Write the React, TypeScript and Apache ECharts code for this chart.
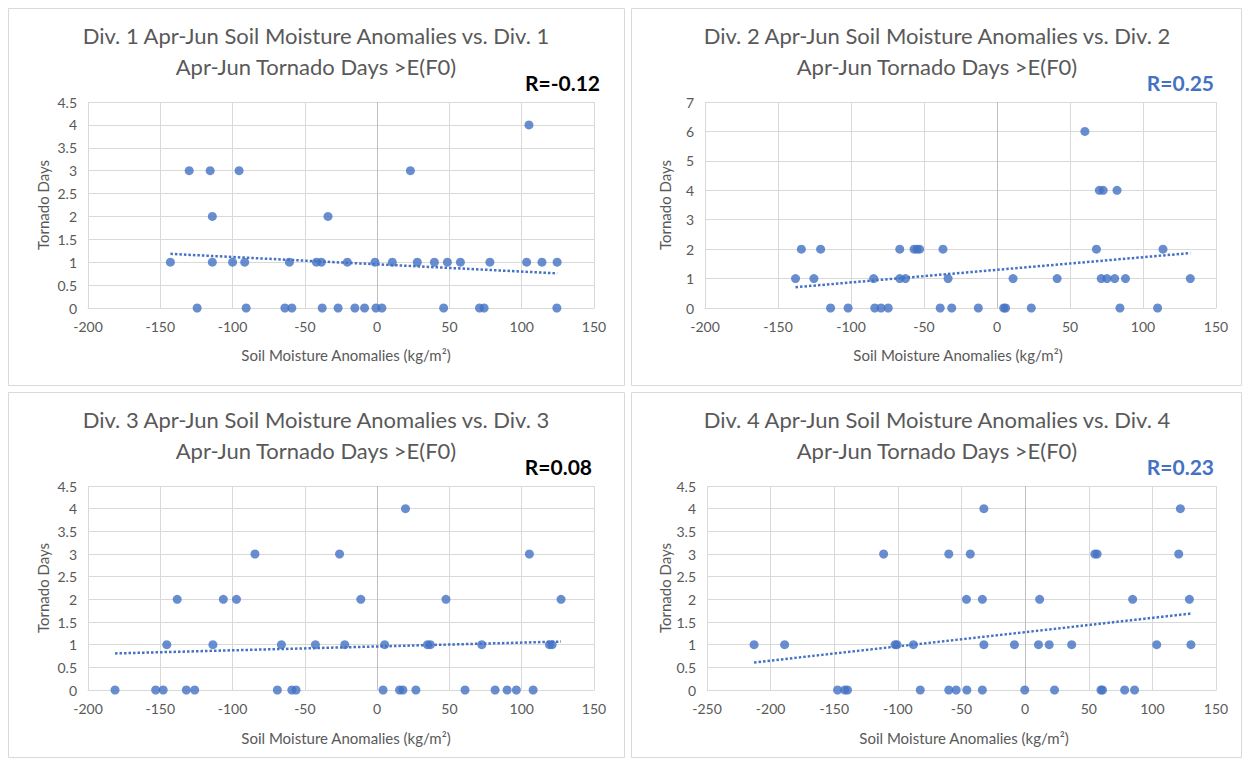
import React, { useEffect, useRef } from "react";
import * as echarts from "echarts";

// ---------- data ----------
const div1X = [105, -130, -115.5, -95.5, 23, -114, -34, -143, -114, -100, -91.6, -60.7, -42, -38.6, -20.6, -1.5, 10.5, 27.8, 39.6, 48.6, 57.6, 78, 103.4, 114, 124.5, -124.5, -90.6, -63.8, -59, -38, -27, -15.4, -8.7, -0.8, 3.3, 46, 70.8, 74, 124.3];
const div1Y = [4, 3, 3, 3, 3, 2, 2, 1, 1, 1, 1, 1, 1, 1, 1, 1, 1, 1, 1, 1, 1, 1, 1, 1, 1, 0, 0, 0, 0, 0, 0, 0, 0, 0, 0, 0, 0, 0, 0];

const div2X = [60.2, 70.1, 72.7, 82.2, -134, -120.8, -66.6, -56.8, -54.8, -53, -37, 68.1, 113.7, -138, -125.4, -84.5, -66.6, -62.7, -33.5, 11, 41.2, 71.4, 75.3, 80.6, 88, 132.4, -114, -102, -83.7, -79.4, -74.5, -38.9, -31, -12.8, 4.6, 5.9, 23.5, 84.2, 110];
const div2Y = [6, 4, 4, 4, 2, 2, 2, 2, 2, 2, 2, 2, 2, 1, 1, 1, 1, 1, 1, 1, 1, 1, 1, 1, 1, 1, 0, 0, 0, 0, 0, 0, 0, 0, 0, 0, 0, 0, 0];

const div3X = [19.6, -84.5, -26, 105.3, -138.3, -106.4, -97.3, -11.3, 47.6, 127.2, -145.5, -113.6, -66.2, -42.7, -22.4, 5.2, 34.8, 36.8, 72.4, 119.2, 121, -181.3, -153.2, -148, -132, -126.2, -69, -59, -56.1, 4.1, 15.5, 17.8, 26.8, 60.8, 81.6, 89.9, 96.3, 107.9];
const div3Y = [4, 3, 3, 3, 2, 2, 2, 2, 2, 2, 1, 1, 1, 1, 1, 1, 1, 1, 1, 1, 1, 0, 0, 0, 0, 0, 0, 0, 0, 0, 0, 0, 0, 0, 0, 0, 0, 0];

const div4X = [-32.4, 122, -111.2, -60, -43.1, 54.8, 56.6, 120.7, -46.1, -33.6, 11.4, 84.5, 129.1, -213, -189, -102.2, -100.7, -87.8, -32.4, -8.4, 10.5, 18.9, 36.6, 103.4, 130.3, -147.4, -141.7, -139.6, -82.4, -60, -54.2, -45.8, -33.6, -0.3, 23.1, 59.6, 60.8, 78.2, 86];
const div4Y = [4, 4, 3, 3, 3, 3, 3, 3, 2, 2, 2, 2, 2, 1, 1, 1, 1, 1, 1, 1, 1, 1, 1, 1, 1, 0, 0, 0, 0, 0, 0, 0, 0, 0, 0, 0, 0, 0, 0];

const panelTitles = [
  "Div. 1 Apr-Jun Soil Moisture Anomalies vs. Div. 1\nApr-Jun Tornado Days >E(F0)",
  "Div. 2 Apr-Jun Soil Moisture Anomalies vs. Div. 2\nApr-Jun Tornado Days >E(F0)",
  "Div. 3 Apr-Jun Soil Moisture Anomalies vs. Div. 3\nApr-Jun Tornado Days >E(F0)",
  "Div. 4 Apr-Jun Soil Moisture Anomalies vs. Div. 4\nApr-Jun Tornado Days >E(F0)",
];
const rLabels = ["R=-0.12", "R=0.25", "R=0.08", "R=0.23"];
const xMins = [-200, -200, -200, -250];
const xMax = 150;
const yMaxes = [4.5, 7, 4.5, 4.5];
const yIntervals = [0.5, 1, 0.5, 0.5];
const xName = "Soil Moisture Anomalies (kg/m²)";
const yName = "Tornado Days";

// ---------- layout ----------
const BLUE = "#4472C4";
const GREY = "#595959";
const FONT = "Lato, 'Liberation Sans', sans-serif";

const panels = [
  { box: [8, 8, 616, 377], grid: [88, 102, 506, 206], titleX: 316, titleY: 20, rX: 600, rY: 82, rColor: "#000000", yNameX: 43, xNameX: 346, xNameY: 355 },
  { box: [631, 8, 610, 377], grid: [705, 102, 511, 206], titleX: 937, titleY: 20, rX: 1214, rY: 82, rColor: BLUE, yNameX: 665, xNameX: 958, xNameY: 355 },
  { box: [8, 392, 616, 365], grid: [88, 486, 506, 204], titleX: 316, titleY: 404, rX: 592, rY: 466, rColor: "#000000", yNameX: 43, xNameX: 346, xNameY: 738 },
  { box: [631, 392, 610, 365], grid: [707, 486, 509, 204], titleX: 937, titleY: 404, rX: 1214, rY: 466, rColor: BLUE, yNameX: 665, xNameX: 964, xNameY: 738 },
];

const xsAll = [div1X, div2X, div3X, div4X];
const ysAll = [div1Y, div2Y, div3Y, div4Y];

function trend(xs: number[], ys: number[]) {
  const n = xs.length;
  const mx = xs.reduce((a, b) => a + b, 0) / n;
  const my = ys.reduce((a, b) => a + b, 0) / n;
  let sxy = 0;
  let sxx = 0;
  for (let i = 0; i < n; i++) {
    sxy += (xs[i] - mx) * (ys[i] - my);
    sxx += (xs[i] - mx) * (xs[i] - mx);
  }
  const b = sxy / sxx;
  const a = my - b * mx;
  const lo = Math.min(...xs);
  const hi = Math.max(...xs);
  return [
    [lo, a + b * lo],
    [hi, a + b * hi],
  ];
}

export default function App() {
  const ref = useRef<HTMLDivElement>(null);
  useEffect(() => {
    if (!ref.current) return;
    const chart = echarts.init(ref.current, undefined, { renderer: "svg" });

    const grid: any[] = [];
    const xAxis: any[] = [];
    const yAxis: any[] = [];
    const series: any[] = [];
    const graphic: any[] = [];

    panels.forEach((p, i) => {
      grid.push({ left: p.grid[0], top: p.grid[1], width: p.grid[2], height: p.grid[3], containLabel: false });
      xAxis.push({
        type: "value",
        gridIndex: i,
        min: xMins[i],
        max: xMax,
        interval: 50,
        axisLine: { show: true, onZero: false, lineStyle: { color: "#d9d9d9", width: 1 } },
        axisTick: { show: false },
        axisLabel: { color: GREY, fontSize: 14, fontFamily: FONT, margin: 11 },
        splitLine: { show: true, lineStyle: { color: "#d9d9d9", width: 1 } },
      });
      yAxis.push({
        type: "value",
        gridIndex: i,
        min: 0,
        max: yMaxes[i],
        interval: yIntervals[i],
        axisLine: { show: false },
        axisTick: { show: false },
        axisLabel: { color: GREY, fontSize: 14, fontFamily: FONT, margin: 11 },
        splitLine: { show: true, lineStyle: { color: "#d9d9d9", width: 1 } },
      });
      const xs = xsAll[i];
      const ys = ysAll[i];
      series.push({
        type: "scatter",
        xAxisIndex: i,
        yAxisIndex: i,
        data: xs.map((x, k) => [x, ys[k]]),
        symbol: "circle",
        symbolSize: 9,
        itemStyle: { color: BLUE },
        z: 3,
        markLine: {
          silent: true,
          symbol: "none",
          label: { show: false },
          lineStyle: { color: "#bfbfbf", type: "solid", width: 1 },
          data: [{ xAxis: 0 }],
          z: 1,
        },
      });
      series.push({
        type: "line",
        xAxisIndex: i,
        yAxisIndex: i,
        data: trend(xs, ys),
        showSymbol: false,
        symbol: "none",
        lineStyle: { color: BLUE, width: 2.5, type: [2.5, 2] },
        z: 4,
      });

      graphic.push({
        type: "rect",
        shape: { x: p.box[0] + 0.5, y: p.box[1] + 0.5, width: p.box[2], height: p.box[3] },
        style: { fill: "none", stroke: "#d9d9d9", lineWidth: 1 },
        silent: true,
      });
      graphic.push({
        type: "text",
        x: p.titleX,
        y: p.titleY,
        style: {
          text: panelTitles[i],
          align: "center",
          verticalAlign: "top",
          fill: GREY,
          font: `22px ${FONT}`,
          lineHeight: 31,
        },
      });
      graphic.push({
        type: "text",
        x: p.rX,
        y: p.rY,
        style: {
          text: rLabels[i],
          align: "right",
          verticalAlign: "middle",
          fill: p.rColor,
          font: `bold 21px ${FONT}`,
        },
      });
      graphic.push({
        type: "text",
        x: p.yNameX,
        y: p.grid[1] + p.grid[3] / 2,
        rotation: Math.PI / 2,
        style: {
          text: yName,
          align: "center",
          verticalAlign: "middle",
          fill: GREY,
          font: `15px ${FONT}`,
        },
      });
      graphic.push({
        type: "text",
        x: p.xNameX,
        y: p.xNameY,
        style: {
          text: xName,
          align: "center",
          verticalAlign: "middle",
          fill: GREY,
          font: `15px ${FONT}`,
        },
      });
    });

    chart.setOption({
      animation: false,
      backgroundColor: "#ffffff",
      grid,
      xAxis,
      yAxis,
      series,
      graphic,
    });
    return () => chart.dispose();
  }, []);

  return (
    <div
      ref={ref}
      style={{ position: "fixed", left: 0, top: 0, width: 1249, height: 763, background: "#fff" }}
    />
  );
}
